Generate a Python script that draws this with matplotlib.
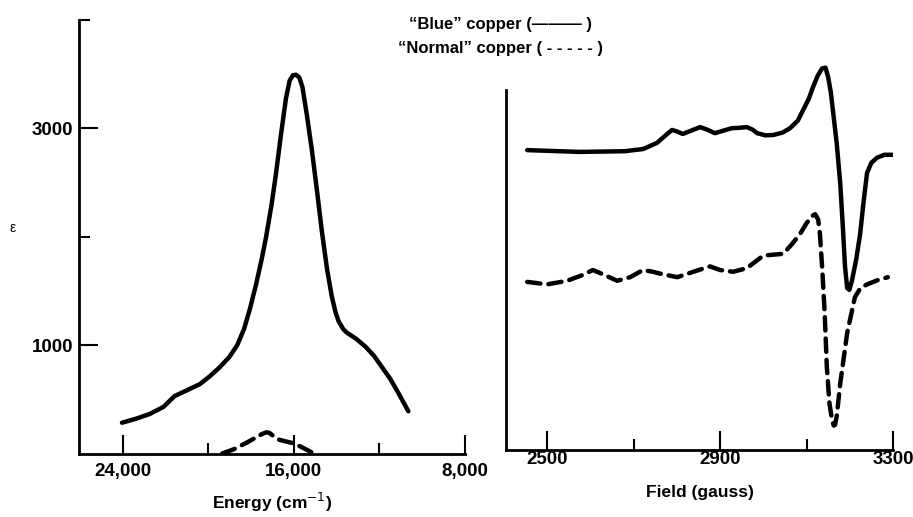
import numpy as np
import matplotlib
matplotlib.use('Agg')
import matplotlib.pyplot as plt
from matplotlib.ticker import FixedLocator

plt.rcParams['font.family'] = ['Liberation Sans', 'DejaVu Sans']

# optical spectrum, "blue" copper (energy cm-1, epsilon)
opt_blue_E = [24040, 23400, 22740, 22100, 21580, 21200, 20880, 20400, 19950, 19500,
              19020, 18650, 18330, 18050, 17770, 17500, 17300, 17050, 16840, 16600,
              16370, 16200, 16050, 15910, 15750, 15600, 15400, 15160, 14900, 14700,
              14450, 14230, 14050, 13910, 13700, 13530, 13100, 12650, 12250, 11910,
              11500, 11120, 10650]
opt_blue_eps = [284, 320, 365, 430, 530, 565, 595, 640, 710, 790,
                890, 1000, 1150, 1340, 1560, 1800, 2000, 2290, 2580, 2950,
                3280, 3440, 3490, 3495, 3470, 3380, 3130, 2800, 2390, 2060,
                1700, 1450, 1300, 1220, 1150, 1115, 1060, 985, 900, 805,
                690, 560, 390]

# optical spectrum, "normal" copper
opt_norm_E = [19350, 18800, 18230, 17800, 17490, 17300, 17160, 16950, 16700, 16400,
              16090, 15700, 15160]
opt_norm_eps = [0, 40, 98, 145, 180, 195, 192, 160, 128, 112, 98, 65, 10]

# EPR spectra (field in gauss, arbitrary signal)
epr_blue_B = [2454, 2576, 2680, 2722, 2754, 2775, 2789, 2800, 2814, 2835, 2854, 2870,
              2888, 2910, 2928, 2945, 2962, 2975, 2986, 3005, 3023, 3045, 3062, 3080,
              3092, 3105, 3115, 3126, 3136, 3144, 3150, 3156, 3161, 3170, 3178, 3184,
              3189, 3194, 3199, 3205, 3215, 3224, 3232, 3240, 3250, 3263, 3280, 3300]
epr_blue_v = [8.33, 8.28, 8.30, 8.36, 8.53, 8.75, 8.89, 8.85, 8.78, 8.88, 8.97, 8.90,
              8.80, 8.88, 8.94, 8.95, 8.97, 8.90, 8.80, 8.74, 8.75, 8.82, 8.94, 9.15,
              9.44, 9.75, 10.08, 10.40, 10.60, 10.62, 10.36, 9.95, 9.44, 8.50, 7.40, 6.20,
              5.10, 4.50, 4.45, 4.70, 5.30, 6.00, 6.90, 7.70, 7.98, 8.12, 8.20, 8.20]

epr_norm_B = [2454, 2500, 2546, 2580, 2606, 2635, 2662, 2692, 2722, 2745, 2761, 2801,
              2838, 2877, 2900, 2930, 2962, 3000, 3046, 3065, 3085, 3100, 3113, 3120,
              3127, 3131, 3136, 3142, 3147, 3153, 3159, 3163, 3166, 3170, 3178, 3194,
              3212, 3225, 3240, 3265, 3288]
epr_norm_v = [4.67, 4.60, 4.70, 4.85, 5.00, 4.85, 4.70, 4.80, 5.00, 4.95, 4.90, 4.80,
              4.95, 5.10, 5.00, 4.95, 5.05, 5.40, 5.45, 5.70, 6.00, 6.30, 6.50, 6.55,
              6.40, 6.00, 5.10, 3.80, 2.30, 1.30, 0.83, 0.68, 0.70, 0.95, 1.85, 3.25,
              4.25, 4.50, 4.60, 4.72, 4.80]

lw = 3.2
bold = {'fontweight': 'bold'}

fig = plt.figure(figsize=(9.13, 5.17), dpi=100)

# left: optical absorption
ax0 = fig.add_axes([79/913, (517-453.5)/517, 386/913, 433.5/517])
ax0.plot(opt_blue_E, opt_blue_eps, color='k', lw=lw, solid_capstyle='round',
         solid_joinstyle='round')
ax0.plot(opt_norm_E, opt_norm_eps, color='k', lw=lw, dashes=(3.0, 1.8),
         dash_capstyle='round')
ax0.set_xlim(26050, 8000)
ax0.set_ylim(0, 4000)
ax0.xaxis.set_major_locator(FixedLocator([24000, 16000, 8000]))
ax0.xaxis.set_minor_locator(FixedLocator([20000, 12000]))
ax0.set_xticklabels(['24,000', '16,000', '8,000'], **bold)
ax0.yaxis.set_major_locator(FixedLocator([1000, 3000]))
ax0.yaxis.set_minor_locator(FixedLocator([2000, 4000]))
ax0.set_yticklabels(['1000', '3000'], **bold)
ax0.tick_params(axis='x', which='major', pad=7)
ax0.tick_params(axis='y', which='major', pad=4)
ax0.set_xlabel('Energy (cm$^{-1}$)', fontsize=12.5, labelpad=8, **bold)
fig.text(13/913, 1 - 228/517, 'ε', fontsize=10, ha='center', va='center')

# right: EPR
ax1 = fig.add_axes([506/913, (517-450)/517, 387/913, 430/517])
ax1.plot(epr_blue_B, epr_blue_v, color='k', lw=lw, solid_capstyle='round',
         solid_joinstyle='round')
ax1.plot(epr_norm_B, epr_norm_v, color='k', lw=lw, dashes=(3.0, 1.8),
         dash_capstyle='round')
ax1.set_xlim(2405, 3300)
ax1.set_ylim(0, 430/36)
ax1.spines['left'].set_bounds(0, 10)
ax1.xaxis.set_major_locator(FixedLocator([2500, 2900, 3300]))
ax1.xaxis.set_minor_locator(FixedLocator([2700, 3100]))
ax1.set_xticklabels(['2500', '2900', '3300'], **bold)
ax1.set_yticks([])
ax1.tick_params(axis='x', which='major', pad=1)
ax1.set_xlabel('Field (gauss)', fontsize=12.5, labelpad=12, **bold)

for ax in (ax0, ax1):
    ax.spines['top'].set_visible(False)
    ax.spines['right'].set_visible(False)
    ax.spines['left'].set_linewidth(2.0)
    ax.spines['bottom'].set_linewidth(2.0)
    ax.tick_params(which='major', direction='in', length=13.5, width=1.5,
                   labelsize=13.5)
    ax.tick_params(which='minor', direction='in', length=8, width=1.5)
    ax.set_facecolor('none')

fig.text(500/913, 1 - 24/517, '\u201cBlue\u201d copper (\u2014\u2014\u2014 )',
         ha='center', va='center', fontsize=12, **bold)
fig.text(500/913, 1 - 48/517, '\u201cNormal\u201d copper ( - - - - - )',
         ha='center', va='center', fontsize=12, **bold)

plt.savefig('out.png', dpi=100)
